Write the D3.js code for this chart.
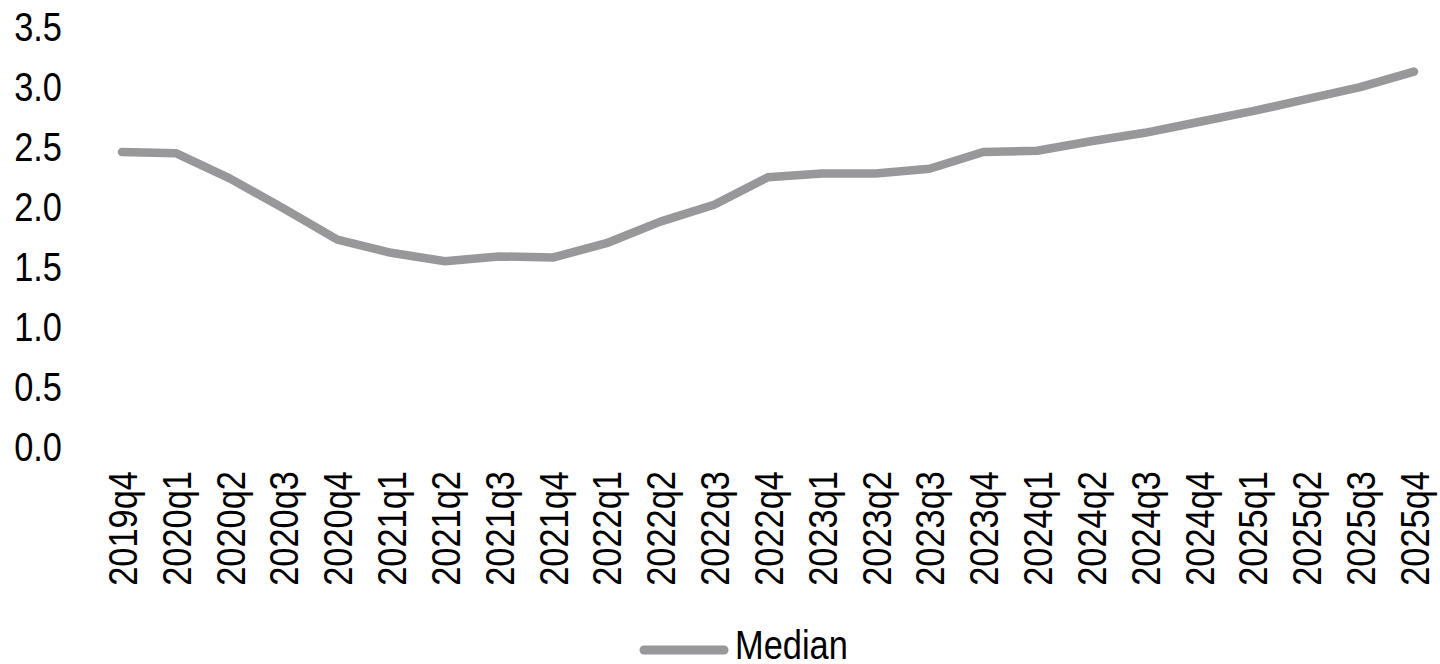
<!DOCTYPE html>
<html>
<head>
<meta charset="utf-8">
<script src="https://cdn.jsdelivr.net/npm/d3@7"></script>
<style>
  html, body { margin: 0; padding: 0; background: #ffffff; }
  svg { display: block; }
  text { font-family: "Liberation Sans", Arial, sans-serif; fill: #000; }
</style>
</head>
<body>
<svg id="chart" width="1440" height="664"></svg>
<script>
// Quarterly periods on the category axis
const quarters = [
  "2019q4", "2020q1", "2020q2", "2020q3", "2020q4",
  "2021q1", "2021q2", "2021q3", "2021q4",
  "2022q1", "2022q2", "2022q3", "2022q4",
  "2023q1", "2023q2", "2023q3", "2023q4",
  "2024q1", "2024q2", "2024q3", "2024q4",
  "2025q1", "2025q2", "2025q3", "2025q4"
];

// Median series, one value per quarter
const medianValues = [
  2.45, 2.44, 2.23, 1.98, 1.72,
  1.61, 1.54, 1.58, 1.57,
  1.69, 1.87, 2.01, 2.24,
  2.27, 2.27, 2.31, 2.45,
  2.46, 2.54, 2.61, 2.70,
  2.79, 2.89, 2.99, 3.12
];

// Value axis ticks
const yTicks = [0, 0.5, 1.0, 1.5, 2.0, 2.5, 3.0, 3.5];

const seriesName = "Median";
const lineColor = "#98989a";
// condensed lettering: horizontal squeeze applied along the text direction
const narrow = 0.86;

const svg = d3.select("#chart");

const x = d3.scalePoint()
  .domain(quarters)
  .range([122, 1414]);

const y = d3.scaleLinear()
  .domain([0, 3.5])
  .range([446, 26]);

// Y axis: labels only, no line or ticks
const yAxis = d3.axisLeft(y)
  .tickValues(yTicks)
  .tickFormat(d3.format(".1f"))
  .tickSize(0)
  .tickPadding(0);

const gy = svg.append("g")
  .attr("transform", "translate(62,0)")
  .call(yAxis);
gy.select(".domain").remove();
gy.selectAll("text")
  .attr("font-size", 40)
  .attr("font-family", null)
  .attr("text-anchor", "end")
  .attr("x", 0)
  .attr("dy", "0.35em")
  .attr("transform", `scale(${narrow},1)`);

// X axis: vertical category labels, no line or ticks
const xAxis = d3.axisBottom(x)
  .tickSize(0)
  .tickPadding(0);

const gx = svg.append("g")
  .attr("transform", "translate(0,471)")
  .call(xAxis);
gx.select(".domain").remove();
gx.selectAll("text")
  .attr("font-size", 40)
  .attr("font-family", null)
  .attr("text-anchor", "end")
  .attr("transform", `rotate(-90) scale(${narrow},1)`)
  .attr("x", 0)
  .attr("y", 0)
  .attr("dy", "0.36em");

// Median line
const line = d3.line()
  .x((d, i) => x(quarters[i]))
  .y(d => y(d));

svg.append("path")
  .datum(medianValues)
  .attr("fill", "none")
  .attr("stroke", lineColor)
  .attr("stroke-width", 8.5)
  .attr("stroke-linecap", "round")
  .attr("stroke-linejoin", "round")
  .attr("d", line);

// Legend
const legend = svg.append("g").attr("transform", "translate(0,650)");
legend.append("line")
  .attr("x1", 644).attr("x2", 724)
  .attr("y1", 0).attr("y2", 0)
  .attr("stroke", lineColor)
  .attr("stroke-width", 9)
  .attr("stroke-linecap", "round");
legend.append("text")
  .attr("transform", `translate(735,9) scale(${narrow},1)`)
  .attr("font-size", 40)
  .text(seriesName);
</script>
</body>
</html>
